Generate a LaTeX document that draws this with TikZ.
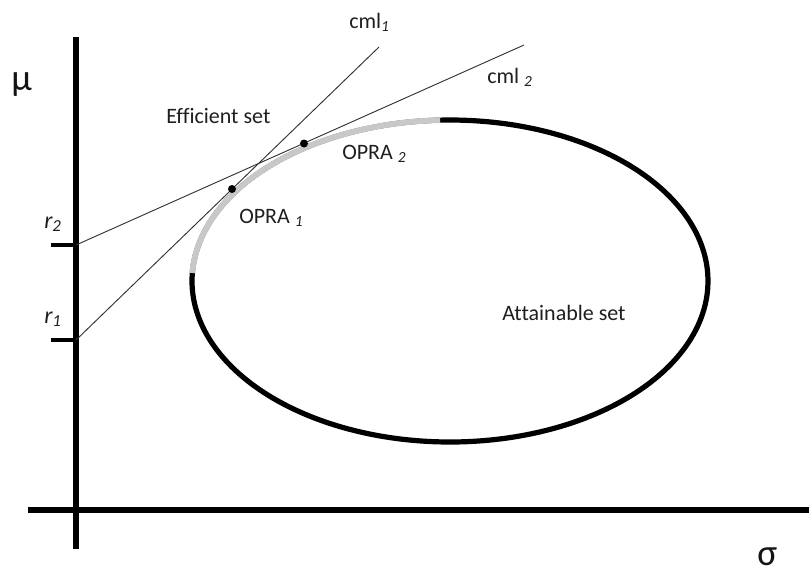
\documentclass[tikz,border=0pt]{standalone}
\usepackage{fontspec}
\setmainfont[Ligatures=NoCommon]{Carlito}
\begin{document}
\begin{tikzpicture}[x=0.75pt,y=-0.75pt,
  axis/.style={line width=4.5pt},
  tick/.style={line width=2.6pt},
  cml/.style={draw=black!80, line width=0.7pt},
  lbl/.style={anchor=base west, inner sep=0pt, text=black!88, font=\fontsize{16.5}{19}\selectfont},
  rlbl/.style={anchor=base west, inner sep=0pt, text=black!88, font=\fontsize{18}{21}\selectfont\itshape},
  greek/.style={anchor=base west, inner sep=0pt, text=black!92, font=\fontsize{28}{32}\selectfont},
  dotn/.style={circle, fill=black, inner sep=0pt, minimum size=6pt}]
\useasboundingbox (0,0) rectangle (809,576);
% axes
\coordinate (ytop) at (76,37);
\coordinate (ybot) at (76,549);
\coordinate (xl) at (28,510);
\coordinate (xr) at (809,510);
\draw[axis] (ytop) -- (ybot);
\draw[axis] (xl) -- (xr);
% ticks
\coordinate (r2) at (76,245);
\coordinate (r2t) at (51,245);
\coordinate (r1) at (76,340);
\coordinate (r1t) at (51,340);
\draw[tick] (r2t) -- (r2);
\draw[tick] (r1t) -- (r1);
% attainable set
\draw[line width=3.9pt] plot[domain=0:360, samples=140, smooth cycle] ({450+258*cos(\x)},{281+161*sin(\x)});
\draw[line width=4.3pt, draw={rgb,255:red,200;green,200;blue,200}] plot[domain=182.85:267.8, samples=60, smooth] ({450+258*cos(\x)},{281+161*sin(\x)});
% capital market lines
\coordinate (c1end) at (379,47);
\coordinate (c2end) at (524,45);
\draw[cml] (r1) -- (c1end);
\draw[cml] (r2) -- (c2end);
% tangency points
\node[dotn] (opra1) at (232,189) {};
\node[dotn] (opra2) at (304,143.5) {};
% labels
\node[greek] (mu) at (11,90) {μ};
\node[greek] (sigma) at (757,565) {σ};
\node[rlbl] (lr2) at (44,228) {r\textsubscript{2}};
\node[rlbl] (lr1) at (44,323) {r\textsubscript{1}};
\node[lbl] (lc1) at (349,28) {cml\textsubscript{\itshape 1}};
\node[lbl] (lc2) at (487,83) {cml \textsubscript{\itshape 2}};
\node[lbl] (leff) at (166,123) {Efficient set};
\node[lbl] (lo2) at (342,159) {OPRA \textsubscript{\itshape 2}};
\node[lbl] (lo1) at (239,223) {OPRA \textsubscript{\itshape 1}};
\node[lbl] (latt) at (502,320) {Attainable set};
\end{tikzpicture}
\end{document}
